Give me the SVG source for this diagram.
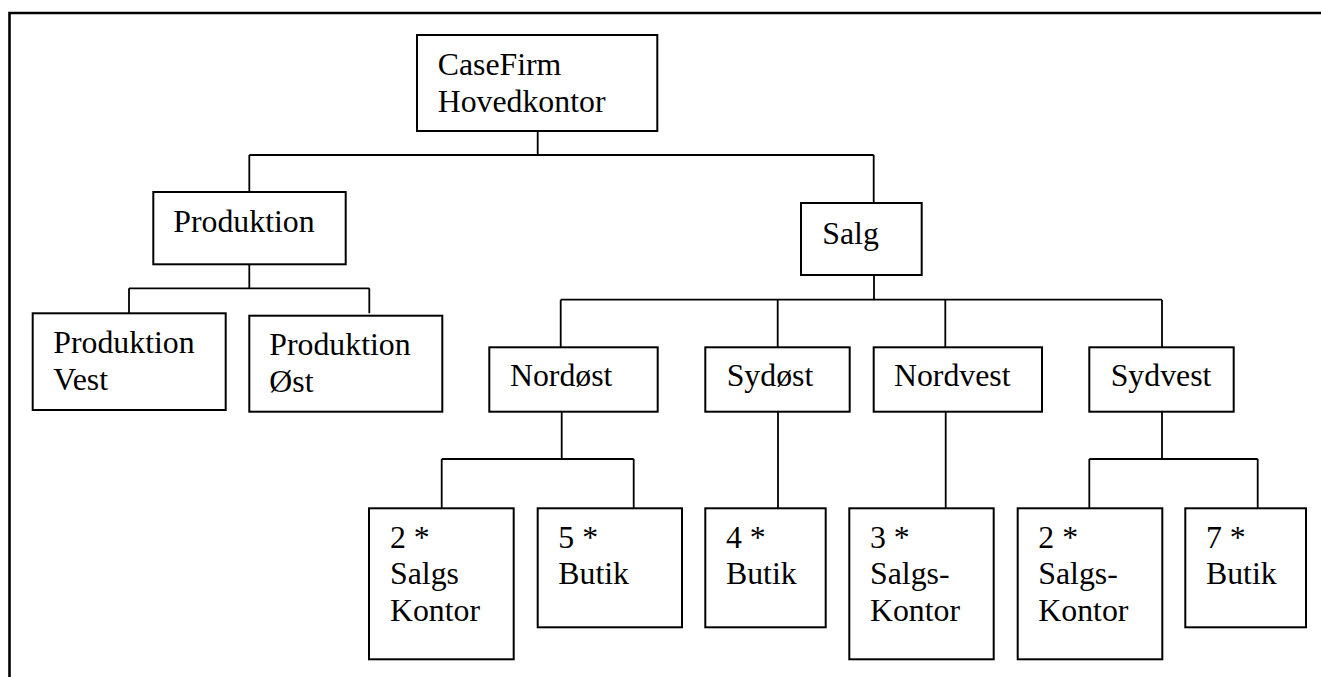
<svg xmlns="http://www.w3.org/2000/svg" width="1321" height="677" viewBox="0 0 1321 677">
  <style>
    .box { fill: #ffffff; stroke: #000000; stroke-width: 2; }
    .lbl { font-family: "Liberation Serif", "Times New Roman", serif; font-size: 31.8px; fill: #000000; }
    .conn { fill: none; stroke: #000000; stroke-width: 1.8; }
    .frame { fill: none; stroke: #000000; stroke-width: 2.6; }
  </style>
  <rect width="1321" height="677" fill="#ffffff"/>

  <!-- open page frame -->
  <path class="frame" d="M9.5 677 V13 H1321"/>

  <!-- connectors -->
  <g id="connectors">
    <path class="conn" d="M537.7 131 V155 M249.3 155 H873.7 M249.3 155 V192 M873.7 155 V203"/>
    <path class="conn" d="M249.3 264.3 V288.3 M129 288.3 H369.3 M129 288.3 V313.3 M369.3 288.3 V313.3"/>
    <path class="conn" d="M874 275 V299.7 M560.7 299.7 H1162 M560.7 299.7 V347.3 M777.7 299.7 V347.3 M945.3 299.7 V347.3 M1162 299.7 V347.3"/>
    <path class="conn" d="M561.7 411.7 V459 M441.7 459 H633.7 M441.7 459 V508.3 M633.7 459 V508.3"/>
    <path class="conn" d="M778 411.7 V508.3"/>
    <path class="conn" d="M945.7 411.7 V508.3"/>
    <path class="conn" d="M1162 411.7 V459 M1089.3 459 H1257.7 M1089.3 459 V508.3 M1257.7 459 V508.3"/>
  </g>

  <g id="hovedkontor">
    <rect class="box" x="417" y="35" width="240.3" height="96"/>
    <text class="lbl" x="437.7" y="75">CaseFirm</text>
    <text class="lbl" x="437.7" y="111.5">Hovedkontor</text>
  </g>

  <g id="produktion">
    <rect class="box" x="153.3" y="192" width="192.4" height="72.3"/>
    <text class="lbl" x="173.3" y="231.5">Produktion</text>
  </g>

  <g id="produktion-vest">
    <rect class="box" x="32.7" y="313.3" width="193" height="96.7"/>
    <text class="lbl" x="53.3" y="353.3">Produktion</text>
    <text class="lbl" x="53.3" y="389.5">Vest</text>
  </g>

  <g id="produktion-oest">
    <rect class="box" x="249.3" y="315.7" width="193" height="96"/>
    <text class="lbl" x="269.3" y="355">Produktion</text>
    <text class="lbl" x="269.3" y="391.5">Øst</text>
  </g>

  <g id="salg">
    <rect class="box" x="801" y="203" width="120.7" height="72"/>
    <text class="lbl" x="822.3" y="243.5">Salg</text>
  </g>

  <g id="nordoest">
    <rect class="box" x="489.3" y="347.3" width="168.4" height="64.4"/>
    <text class="lbl" x="510" y="386">Nordøst</text>
  </g>

  <g id="sydoest">
    <rect class="box" x="705.3" y="347.3" width="144.4" height="64.4"/>
    <text class="lbl" x="726.7" y="386">Sydøst</text>
  </g>

  <g id="nordvest">
    <rect class="box" x="873.7" y="347.3" width="168.3" height="64.4"/>
    <text class="lbl" x="894" y="386">Nordvest</text>
  </g>

  <g id="sydvest">
    <rect class="box" x="1089.3" y="347.3" width="144.4" height="64.4"/>
    <text class="lbl" x="1110.7" y="386">Sydvest</text>
  </g>

  <g id="nordoest-salgskontor">
    <rect class="box" x="369" y="508.3" width="144.7" height="151"/>
    <text class="lbl" x="390" y="547.7">2 *</text>
    <text class="lbl" x="390" y="584.3">Salgs</text>
    <text class="lbl" x="390" y="621">Kontor</text>
  </g>

  <g id="nordoest-butik">
    <rect class="box" x="537.7" y="508.3" width="144.3" height="119"/>
    <text class="lbl" x="558.3" y="547.7">5 *</text>
    <text class="lbl" x="558.3" y="584.3">Butik</text>
  </g>

  <g id="sydoest-butik">
    <rect class="box" x="705.3" y="508.3" width="120.4" height="119"/>
    <text class="lbl" x="726" y="547.7">4 *</text>
    <text class="lbl" x="726" y="584.3">Butik</text>
  </g>

  <g id="nordvest-salgskontor">
    <rect class="box" x="849.3" y="508.3" width="144.4" height="151"/>
    <text class="lbl" x="870" y="547.7">3 *</text>
    <text class="lbl" x="870" y="584.3">Salgs-</text>
    <text class="lbl" x="870" y="621">Kontor</text>
  </g>

  <g id="sydvest-salgskontor">
    <rect class="box" x="1017.7" y="508.3" width="144.6" height="151"/>
    <text class="lbl" x="1038.3" y="547.7">2 *</text>
    <text class="lbl" x="1038.3" y="584.3">Salgs-</text>
    <text class="lbl" x="1038.3" y="621">Kontor</text>
  </g>

  <g id="sydvest-butik">
    <rect class="box" x="1185.3" y="508.3" width="120.7" height="119"/>
    <text class="lbl" x="1206" y="547.7">7 *</text>
    <text class="lbl" x="1206" y="584.3">Butik</text>
  </g>
</svg>
